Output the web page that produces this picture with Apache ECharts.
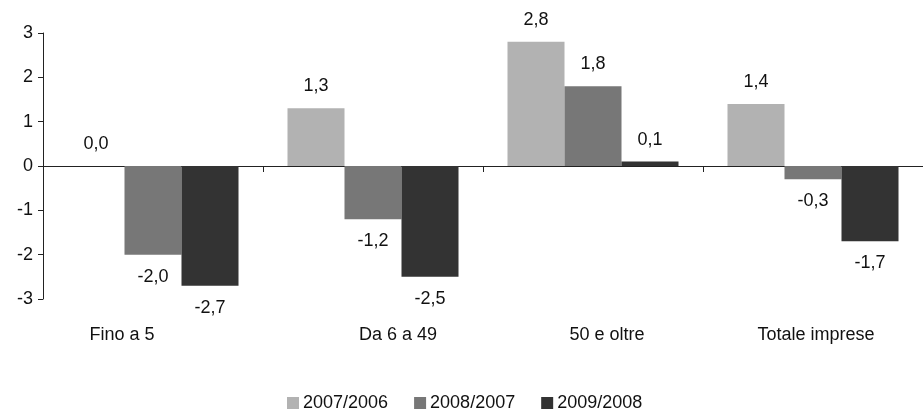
<!DOCTYPE html>
<html>
<head>
<meta charset="utf-8">
<script src="https://cdn.jsdelivr.net/npm/echarts@6/dist/echarts.min.js"></script>
<style>
html,body{margin:0;padding:0;background:#fff;}
#chart{width:923px;height:410px;}
</style>
</head>
<body>
<div id="chart"></div>
<script>
const categories = ['Fino a 5', 'Da 6 a 49', '50 e oltre', 'Totale imprese'];
const seriesNames = ['2007/2006', '2008/2007', '2009/2008'];
const v2007 = [0.0, 1.3, 2.8, 1.4];
const v2008 = [-2.0, -1.2, 1.8, -0.3];
const v2009 = [-2.7, -2.5, 0.1, -1.7];
const colors = ['#b2b2b2', '#777777', '#333333'];

const FONT = 'Liberation Sans, Arial, sans-serif';
const FS = 18;
const fmt = v => v.toFixed(1).replace('.', ',');

// horizontal label shifts (style only), applied as rich-text padding
const labelRich = {
  c0: { fontFamily: FONT, fontSize: FS, color: '#111', padding: [0, 62, 0, 0] },
  c1: { fontFamily: FONT, fontSize: FS, color: '#111', padding: [0, 0, 0, 50] },
  c2: { fontFamily: FONT, fontSize: FS, color: '#111', padding: [0, 0, 0, 28] },
  c3: { fontFamily: FONT, fontSize: FS, color: '#111', padding: [0, 0, 0, 6] }
};

function makeSeries(name, values, color) {
  return {
    name: name,
    type: 'bar',
    barWidth: 57,
    barGap: '0%',
    itemStyle: { color: color },
    label: {
      show: true,
      distance: 13,
      color: '#111',
      fontFamily: FONT,
      fontSize: FS,
      formatter: p => fmt(p.value)
    },
    data: values.map(v => ({ value: v, label: { position: v < 0 ? 'bottom' : 'top' } }))
  };
}

const chart = echarts.init(document.getElementById('chart'), null, { renderer: 'canvas' });
chart.setOption({
  animation: false,
  backgroundColor: '#fff',
  textStyle: { fontFamily: FONT },
  grid: { left: 43, right: -10, top: 33, bottom: 111, containLabel: false },
  legend: {
    data: seriesNames,
    bottom: -7,
    left: 282,
    itemWidth: 12,
    itemHeight: 12,
    itemGap: 26,
    icon: 'rect',
    textStyle: { fontFamily: FONT, fontSize: FS, color: '#111', padding: [0, 0, 0, -1] }
  },
  xAxis: [
    {
      type: 'category',
      data: categories,
      position: 'bottom',
      axisLine: { show: false, onZero: false },
      axisTick: { show: false },
      axisLabel: {
        margin: 27,
        fontFamily: FONT,
        fontSize: FS,
        color: '#111',
        formatter: (val, idx) => '{c' + idx + '|' + val + '}',
        rich: labelRich
      }
    },
    {
      type: 'category',
      data: categories,
      position: 'bottom',
      axisLine: { show: true, onZero: true, lineStyle: { color: '#222', width: 1 } },
      axisTick: { show: true, length: 6, lineStyle: { color: '#222' } },
      axisLabel: { show: false }
    }
  ],
  yAxis: {
    type: 'value',
    min: -3,
    max: 3,
    interval: 1,
    axisLine: { show: true, lineStyle: { color: '#222' } },
    axisTick: { show: true, length: 5, lineStyle: { color: '#222' } },
    splitLine: { show: false },
    axisLabel: { margin: 10, fontFamily: FONT, fontSize: FS, color: '#111' }
  },
  series: [
    makeSeries(seriesNames[0], v2007, colors[0]),
    makeSeries(seriesNames[1], v2008, colors[1]),
    makeSeries(seriesNames[2], v2009, colors[2])
  ]
});
</script>
</body>
</html>
